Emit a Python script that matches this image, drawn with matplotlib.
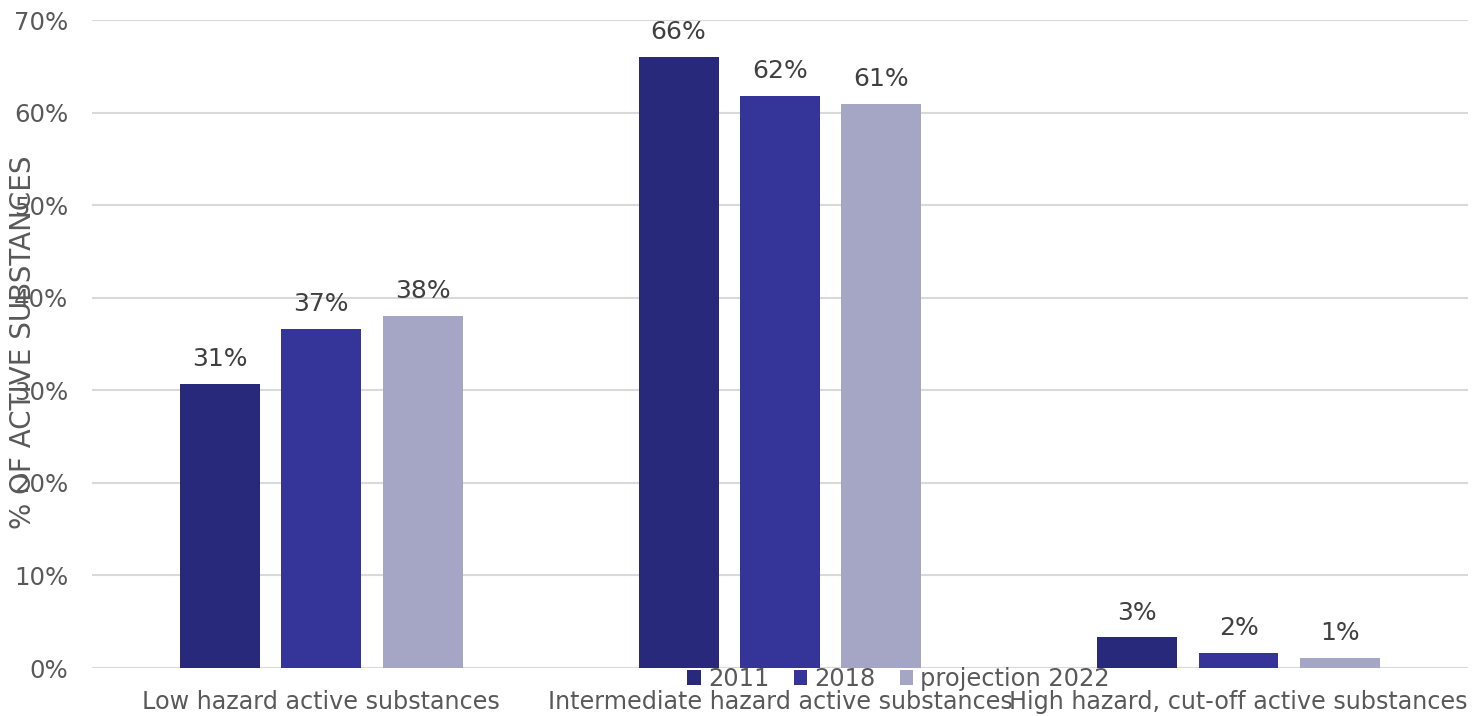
import numpy as np
import matplotlib.pyplot as plt
from matplotlib.ticker import FuncFormatter

categories = ['Low hazard active substances',
              'Intermediate hazard active substances',
              'High hazard, cut-off active substances']
series_names = ['2011', '2018', 'projection 2022']
values_2011 = [30.7, 66.0, 3.3]
values_2018 = [36.6, 61.8, 1.6]
values_2022 = [38.0, 60.9, 1.1]
colors = ['#29297b', '#353599', '#a5a5c5']

def main():
    fig = plt.figure(figsize=(14.73, 7.16), dpi=100)
    ax = fig.add_axes([0.0625, 0.067, 0.934, 0.905])
    x = np.arange(len(categories))
    width = 0.174
    step = 0.221
    all_vals = [values_2011, values_2018, values_2022]
    for i, (vals, name, c) in enumerate(zip(all_vals, series_names, colors)):
        pos = x + (i - 1) * step
        bars = ax.bar(pos, vals, width, color=c, label=name, zorder=3)
        for b, v in zip(bars, vals):
            ax.text(b.get_x() + b.get_width() / 2, v + 1.4, '{:.0f}%'.format(v),
                    ha='center', va='bottom', fontsize=18, color='#404040')
    ax.set_xlim(-0.5, 2.5)
    ax.set_ylim(0, 70)
    ax.set_yticks(np.arange(0, 71, 10))
    ax.yaxis.set_major_formatter(FuncFormatter(lambda v, p: '{:.0f}%'.format(v)))
    ax.set_xticks(x)
    ax.set_xticklabels(categories)
    ax.tick_params(axis='both', length=0, colors='#595959')
    ax.tick_params(axis='y', pad=17, labelsize=17.6)
    ax.tick_params(axis='x', pad=16, labelsize=17.2)
    ax.grid(axis='y', color='#d9d9d9', linewidth=1.5, zorder=0)
    for s in ax.spines.values():
        s.set_visible(False)
    fig.text(0.0155, 0.522, '% OF ACTIVE SUBSTANCES', rotation=90, ha='center',
             va='center', fontsize=20, color='#595959')
    fig.legend(loc='center', bbox_to_anchor=(898.5 / 1473, 1 - 679 / 716), ncol=3,
               frameon=False, fontsize=17.4, handlelength=0.55, handleheight=0.55,
               handletextpad=0.3, columnspacing=1.0, labelcolor='#595959',
               borderpad=0)
    fig.savefig('out.png', dpi=100)

if __name__ == '__main__':
    main()
